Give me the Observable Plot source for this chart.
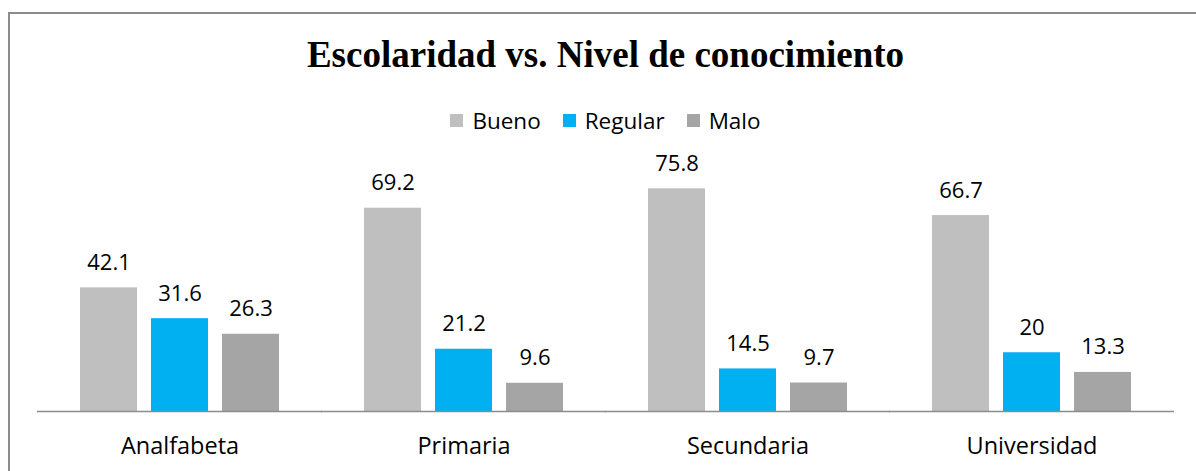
<!DOCTYPE html>
<html>
<head>
<meta charset="utf-8">
<script src="https://cdn.jsdelivr.net/npm/d3@7"></script>
<script src="https://cdn.jsdelivr.net/npm/@observablehq/plot@0.6"></script>
<style>
  html, body { margin: 0; padding: 0; background: #fff; }
  body { width: 1196px; height: 471px; position: relative; overflow: hidden; }
  #frame { position: absolute; left: 8px; top: 12px; right: 0; height: 480px;
           border-top: 2px solid #8c8c8c; border-left: 2px solid #8c8c8c; }
  #title { position: absolute; left: 37px; width: 1137px; top: 35px; height: 40px; line-height: 40px;
           text-align: center; font-family: "Liberation Serif", "Times New Roman", serif;
           font-weight: bold; font-size: 37px; color: #000; white-space: nowrap; }
  #legend { position: absolute; left: 37px; width: 1137px; top: 105px; height: 30px;
            display: flex; justify-content: center; align-items: center; gap: 22px;
            font-family: "Open Sans", sans-serif; font-size: 22.5px; color: #000; }
  #legend .item { display: flex; align-items: center; gap: 9px; }
  #legend .sw { width: 13px; height: 13px; display: inline-block; }
  #chart { position: absolute; left: 0; top: 140px; }
</style>
</head>
<body>
<div id="frame"></div>
<div id="title">Escolaridad vs. Nivel de conocimiento</div>
<div id="legend"></div>
<div id="chart"></div>
<script>
const categories = ["Analfabeta", "Primaria", "Secundaria", "Universidad"];
const series = ["Bueno", "Regular", "Malo"];
const bueno = [42.1, 69.2, 75.8, 66.7];
const regular = [31.6, 21.2, 14.5, 20];
const malo = [26.3, 9.6, 9.7, 13.3];
const colors = ["#bfbfbf", "#00b0f0", "#a5a5a5"];

const valuesBySeries = [bueno, regular, malo];
const data = [];
categories.forEach((c, i) => {
  series.forEach((s, j) => {
    data.push({cat: c, series: s, value: valuesBySeries[j][i]});
  });
});

// legend
const legend = document.getElementById("legend");
series.forEach((s, j) => {
  const item = document.createElement("div");
  item.className = "item";
  const sw = document.createElement("span");
  sw.className = "sw";
  sw.style.background = colors[j];
  const t = document.createElement("span");
  t.textContent = s;
  item.appendChild(sw);
  item.appendChild(t);
  legend.appendChild(item);
});

function makeChart(ext) {
  return Plot.plot({
    width: 1196,
    height: 331,
    marginLeft: 37,
    marginRight: 22,
    marginTop: 36,
    marginBottom: 60,
    style: {fontFamily: "Open Sans, sans-serif", fontSize: "22px", color: "#000", background: "transparent"},
    fx: {domain: categories, paddingInner: 0.3, paddingOuter: 0.15, label: null},
    x: {domain: series, paddingInner: 0.2, paddingOuter: 0, axis: null},
    y: {domain: [0, 80], axis: null},
    color: {domain: series, range: colors},
    marks: [
      Plot.barY(data, {fx: "cat", x: "series", y: "value", fill: "series"}),
      Plot.text(data, {fx: "cat", x: "series", y: "value", text: d => String(d.value),
        lineAnchor: "bottom", dy: -18, fontSize: 22, fill: "#000"}),
      Plot.ruleY([0], {stroke: "#8c8c8c", strokeWidth: 1.3, insetLeft: -ext, insetRight: -ext}),
      Plot.axisFx({anchor: "bottom", tickSize: 0, tickPadding: 26, fontSize: 23.5, label: null, fill: "#000"})
    ]
  });
}

// first pass to read the facet band geometry, second pass extends the baseline across facet gaps
const probe = makeChart(0);
const fx = probe.scale("fx");
const ext = (fx.step - fx.bandwidth) / 2 + 0.5;
const chart = makeChart(ext);
document.getElementById("chart").appendChild(chart);
</script>
</body>
</html>
